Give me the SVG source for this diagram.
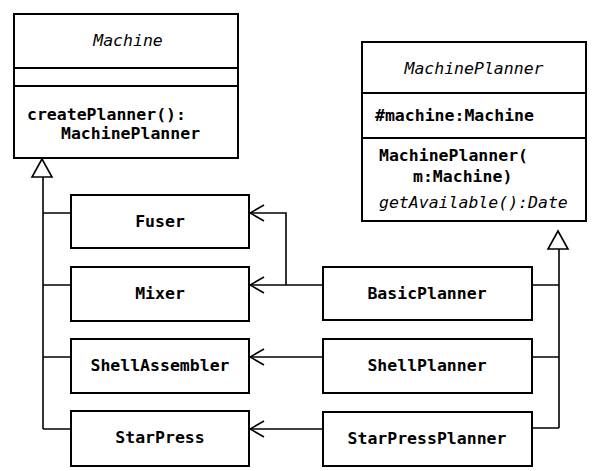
<svg xmlns="http://www.w3.org/2000/svg" width="605" height="471" viewBox="0 0 605 471">
<defs>
<style>
.box{fill:#fff;stroke:#000;stroke-width:2}
.div{stroke:#000;stroke-width:2}
.t{font-family:"DejaVu Sans Mono","Liberation Mono",monospace;font-size:16.5px;font-weight:bold;fill:#000}
.i{font-family:"DejaVu Sans Mono","Liberation Mono",monospace;font-size:16.5px;font-style:italic;fill:#000}
.c{text-anchor:middle}
.ln{fill:none;stroke:#000;stroke-width:1.6}
.gen{fill:#fff;stroke:#000;stroke-width:1.6}
</style>
<marker id="open" viewBox="0 0 16 18" refX="15" refY="9" markerWidth="16" markerHeight="18" markerUnits="userSpaceOnUse" orient="auto">
<path d="M1,1 L15,9 L1,17" fill="none" stroke="#000" stroke-width="1.6"/>
</marker>
</defs>
<g id="Machine">
<rect class="box" x="14" y="14" width="224" height="144"/>
<line class="div" x1="14" y1="68" x2="238" y2="68"/>
<line class="div" x1="14" y1="86" x2="238" y2="86"/>
<text class="i c" x="128" y="46">Machine</text>
<text class="t" x="27" y="120">createPlanner():</text>
<text class="t" x="61" y="139">MachinePlanner</text>
</g>
<g id="MachinePlanner">
<rect class="box" x="362" y="42" width="224" height="179"/>
<line class="div" x1="362" y1="93" x2="586" y2="93"/>
<line class="div" x1="362" y1="138" x2="586" y2="138"/>
<text class="i c" x="474" y="74">MachinePlanner</text>
<text class="t" x="375" y="121">#machine:Machine</text>
<text class="t" x="379" y="161">MachinePlanner(</text>
<text class="t" x="413" y="182">m:Machine)</text>
<text class="i" x="379" y="208">getAvailable():Date</text>
</g>
<g id="Fuser">
<rect class="box" x="71" y="195" width="178" height="53"/>
<text class="t c" x="160" y="227">Fuser</text>
</g>
<g id="Mixer">
<rect class="box" x="71" y="267" width="178" height="54"/>
<text class="t c" x="160" y="299">Mixer</text>
</g>
<g id="ShellAssembler">
<rect class="box" x="71" y="339" width="178" height="54"/>
<text class="t c" x="160" y="371">ShellAssembler</text>
</g>
<g id="StarPress">
<rect class="box" x="71" y="411" width="178" height="55"/>
<text class="t c" x="160" y="443">StarPress</text>
</g>
<g id="BasicPlanner">
<rect class="box" x="323" y="267" width="209" height="53"/>
<text class="t c" x="427" y="299">BasicPlanner</text>
</g>
<g id="ShellPlanner">
<rect class="box" x="323" y="339" width="209" height="54"/>
<text class="t c" x="427" y="371">ShellPlanner</text>
</g>
<g id="StarPressPlanner">
<rect class="box" x="323" y="412" width="209" height="54"/>
<text class="t c" x="427" y="444">StarPressPlanner</text>
</g>
<g id="connectors">
<path class="ln" d="M43,177 V429 M43,213 H70 M43,285 H70 M43,357 H70 M43,429 H70"/>
<polygon class="gen" points="42,159 32,177 52,177"/>
<path class="ln" d="M559,249 V428 M533,285 H559 M533,357 H559 M533,428 H559"/>
<polygon class="gen" points="558,231 548,249 568,249"/>
<path class="ln" d="M322,285 H250" marker-end="url(#open)"/>
<path class="ln" d="M286,285 V213 H250" marker-end="url(#open)"/>
<path class="ln" d="M322,357 H250" marker-end="url(#open)"/>
<path class="ln" d="M322,429 H250" marker-end="url(#open)"/>
</g>
</svg>
